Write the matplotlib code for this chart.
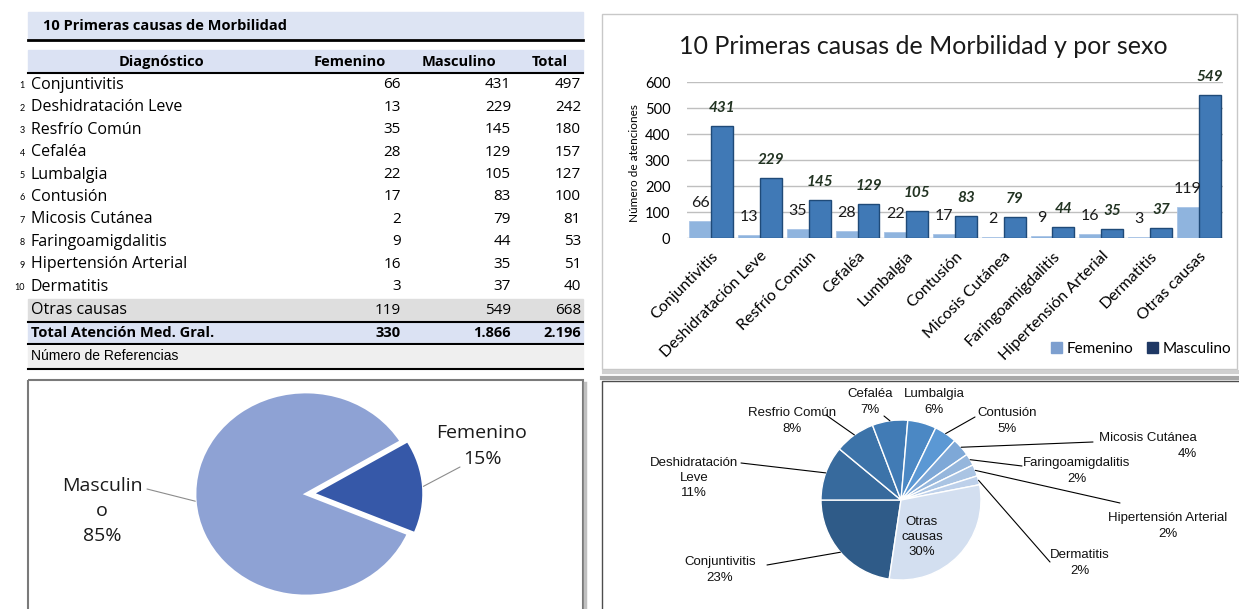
import matplotlib.pyplot as plt
import numpy as np
from matplotlib.patches import Rectangle, Patch

plt.rcParams['font.family'] = ['Lato', 'DejaVu Sans']
OPEN = ['Open Sans', 'DejaVu Sans']

# ---- data ----
causas = ['Conjuntivitis', 'Deshidratación Leve', 'Resfrío Común', 'Cefaléa', 'Lumbalgia',
          'Contusión', 'Micosis Cutánea', 'Faringoamigdalitis', 'Hipertensión Arterial',
          'Dermatitis', 'Otras causas']
femenino = [66, 13, 35, 28, 22, 17, 2, 9, 16, 3, 119]
masculino = [431, 229, 145, 129, 105, 83, 79, 44, 35, 37, 549]
total = [497, 242, 180, 157, 127, 100, 81, 53, 51, 40, 668]
total_fem, total_masc, total_gral = 330, 1866, 2196
sexos = ['Femenino', 'Masculino']
# labels as written in the lower right pie
pie_labels = ['Conjuntivitis', 'Deshidratación\nLeve', 'Resfrio Común', 'Cefaléa', 'Lumbalgia',
              'Contusión', 'Micosis Cutánea', 'Faringoamigdalitis', 'Hipertensión Arterial',
              'Dermatitis', 'Otras\ncausas']

W, H = 1239, 609
fig = plt.figure(figsize=(W / 100, H / 100), dpi=100)


def px_axes(x0, y0, x1, y1):
    """axes from pixel box (top-left origin)"""
    return fig.add_axes([x0 / W, 1 - y1 / H, (x1 - x0) / W, (y1 - y0) / H])


def miles(v):
    return f'{v:,}'.replace(',', '.')


# overlay in pixel coords for table, panels and free text (kept on top)
bg = fig.add_axes([0, 0, 1, 1])
bg.set_xlim(0, W)
bg.set_ylim(H, 0)
bg.set_autoscale_on(False)
bg.axis('off')
bg.set_zorder(10)

# ---- table ----
L, R = 28, 583
bg.add_patch(Rectangle((L, 12), R - L, 26, color='#dde4f3'))
bg.text(43, 26, '10 Primeras causas de Morbilidad', fontsize=10.5, fontweight='bold',
        family=OPEN, va='center')
bg.plot([L, R], [40, 40], color='black', lw=2)
bg.add_patch(Rectangle((L, 50), R - L, 22, color='#dbe2f3'))
for txt, x in [('Diagnóstico', 161), ('Femenino', 350), ('Masculino', 459), ('Total', 550)]:
    bg.text(x, 62, txt, fontsize=10.5, fontweight='bold', family=OPEN, ha='center', va='center')
bg.plot([L, R], [73, 73], color='black', lw=1.5)

col_x = [401, 511, 581]
for i in range(10):
    y = 85 + 22.4 * i
    bg.text(25, y + 1, str(i + 1), fontsize=6.5, ha='right', va='center')
    bg.text(31, y, causas[i], fontsize=11.5, family=OPEN, va='center')
    for x, v in zip(col_x, [femenino[i], masculino[i], total[i]]):
        bg.text(x, y, str(v), fontsize=11, family=OPEN, ha='right', va='center')

bg.add_patch(Rectangle((L, 299), R - L, 22, color='#dedede'))
bg.text(31, 310, causas[10], fontsize=11.5, family=OPEN, va='center')
for x, v in zip(col_x, [femenino[10], masculino[10], total[10]]):
    bg.text(x, 310, str(v), fontsize=11, family=OPEN, ha='right', va='center')
bg.plot([L, R], [321.5, 321.5], color='black', lw=1.5)

bg.add_patch(Rectangle((L, 322), R - L, 21, color='#dbe2f3'))
bg.text(31, 333, 'Total Atención Med. Gral.', fontsize=10.5, fontweight='bold', family=OPEN,
        va='center')
for x, v in zip(col_x, [total_fem, total_masc, total_gral]):
    bg.text(x, 333, miles(v), fontsize=10.5, fontweight='bold', family=OPEN, ha='right',
            va='center')
bg.plot([L, R], [344, 344], color='black', lw=1.5)

bg.add_patch(Rectangle((L, 346), R - L, 21, color='#efefef'))
bg.text(31, 356, 'Número de Referencias', fontsize=10, family=['Liberation Sans', 'DejaVu Sans'],
        va='center')
bg.plot([L, R], [369, 369], color='black', lw=1.5)

# ---- panel borders ----
bg.add_patch(Rectangle((602, 14), 635, 355, fill=False, edgecolor='#c8c8c8', lw=1))
bg.plot([604, 1239], [372, 372], color='#d0d0d0', lw=3)
bg.add_patch(Rectangle((28, 380), 555, 240, fill=False, edgecolor='#7a7a7a', lw=1.5))
bg.plot([585, 585], [383, 609], color='#c0c0c0', lw=2.5)
bg.plot([602, 1239], [378, 378], color='#a8a8a8', lw=3)
bg.add_patch(Rectangle((602, 381), 640, 240, fill=False, edgecolor='#4d4d4d', lw=1))

# ---- bar chart ----
bg.text(923, 46, '10 Primeras causas de Morbilidad y por sexo', fontsize=18,
        ha='center', va='center', color='#1a1a1a')
bg.text(634, 163, 'Número de atenciones', rotation=90, fontsize=8.5, ha='center', va='center')

ax = px_axes(687, 82, 1223, 238)
ax.set_facecolor('none')
x = np.arange(len(causas))
w = 0.45
b_fem = ax.bar(x - w / 2, femenino, w, color='#8fb4de', edgecolor='#a9c4e6', lw=0.6, zorder=3)
b_masc = ax.bar(x + w / 2, masculino, w, color='#4079b6', edgecolor='#1f4a78', lw=1.0, zorder=3)
for r, v in zip(b_fem, femenino):
    ax.annotate(str(v), (r.get_x() + r.get_width() / 2, v), xytext=(0, 13),
                textcoords='offset points', ha='center', va='center', fontsize=11.5,
                color='#1a1a1a')
for r, v in zip(b_masc, masculino):
    ax.annotate(str(v), (r.get_x() + r.get_width() / 2, v), xytext=(0, 13),
                textcoords='offset points', ha='center', va='center', fontsize=11,
                fontweight='bold', fontstyle='italic', color='#223322')
ax.set_xlim(-0.5, len(causas) - 0.5)
ax.set_ylim(0, 600)
ax.set_yticks(range(0, 601, 100))
ax.yaxis.grid(True, color='#bfbfbf', lw=1)
ax.set_axisbelow(True)
for s in ax.spines.values():
    s.set_visible(False)
ax.tick_params(length=0, labelsize=10.5, pad=12)
ax.set_xticks(x)
ax.set_xticklabels(causas, rotation=45, ha='right', rotation_mode='anchor', fontsize=11.5)
ax.tick_params(axis='x', pad=8)

fig.legend([Patch(color='#7d9fcf'), Patch(color='#1f3864')], sexos, loc='center',
           bbox_to_anchor=(1141 / W, 1 - 349 / H), ncol=2, frameon=False, fontsize=11,
           handlelength=0.7, handleheight=0.7, handletextpad=0.3, columnspacing=0.9)

# ---- pie by sex ----
cx, cy, rx, ry = 306, 494, 111, 102
lim = 1.24
ax2 = px_axes(cx - rx * lim, cy - ry * lim, cx + rx * lim, cy + ry * lim)
w2, _ = ax2.pie([total_fem, total_masc], colors=['#3658a8', '#8ea2d4'], startangle=-23,
                explode=[0.06, 0], wedgeprops=dict(edgecolor='white', lw=2))
ax2.set_aspect('auto')
ax2.set_xlim(-lim, lim)
ax2.set_ylim(-lim, lim)
pct_sexo = [round(100 * v / total_gral) for v in [total_fem, total_masc]]
bg.text(482, 446, f'Femenino\n{pct_sexo[0]}%', fontsize=14, family=OPEN, ha='center',
        va='center', linespacing=1.5, color='#1a1a1a')
bg.text(102, 511, f'Masculin\no\n{pct_sexo[1]}%', fontsize=14, family=OPEN, ha='center',
        va='center', linespacing=1.5, color='#1a1a1a')
for wd, (lx, ly) in zip(w2, [(460, 467), (147, 489)]):
    a = np.deg2rad((wd.theta1 + wd.theta2) / 2)
    px_ = wd.center[0] + np.cos(a)
    py_ = wd.center[1] + np.sin(a)
    ax2.annotate('', xy=(px_, py_), xytext=(lx, H - ly), textcoords='figure pixels',
                 arrowprops=dict(arrowstyle='-', color='#8c8c8c', lw=0.8, shrinkA=0, shrinkB=0))

# ---- pie by cause ----
cx, cy, r = 901, 500, 80
ax3 = px_axes(cx - r * lim, cy - r * lim, cx + r * lim, cy + r * lim)
pie_colors = ['#2f5b88', '#376a9d', '#3c73a9', '#417bb5', '#4b88c4', '#5b98d4',
              '#7ea8d7', '#95b6dc', '#aac4e3', '#bdd0ea', '#d3dff0']
w3, _ = ax3.pie(total, colors=pie_colors, startangle=261.5, counterclock=False,
                wedgeprops=dict(edgecolor='white', lw=1))
ax3.set_xlim(-lim, lim)
ax3.set_ylim(-lim, lim)

narrow = ['Liberation Sans', 'DejaVu Sans']
pcts = [round(100 * v / total_gral) for v in total]
# text center (x, y) and leader start (x, y) in pixels, None = no leader
lab_pos = [((720, 570), (767, 565)), ((694, 478), (741, 463)), ((792, 421), (826, 415)),
           ((870, 402), (884, 416)), ((934, 402), None), ((1007, 421), (975, 417)),
           ((1148, 446), (1093, 442)), ((1077, 471), (1022, 466)), ((1168, 526), (1120, 503)),
           ((1080, 563), (1050, 562)), ((922, 537), None)]
for wd, lab, p, (tpos, lpos) in zip(w3, pie_labels, pcts, lab_pos):
    ma = 'right' if lab == 'Micosis Cutánea' else 'center'
    bg.text(tpos[0], tpos[1], f'{lab}\n{p}%', fontsize=9.5, family=narrow, ha='center',
            va='center', multialignment=ma, linespacing=1.35, color='#111111')
    if lpos is None:
        continue
    a = np.deg2rad((wd.theta1 + wd.theta2) / 2)
    ax3.annotate('', xy=(np.cos(a), np.sin(a)), xytext=(lpos[0], H - lpos[1]),
                 textcoords='figure pixels',
                 arrowprops=dict(arrowstyle='-', color='black', lw=0.8, shrinkA=0, shrinkB=0))

fig.savefig('out.png', dpi=100)
